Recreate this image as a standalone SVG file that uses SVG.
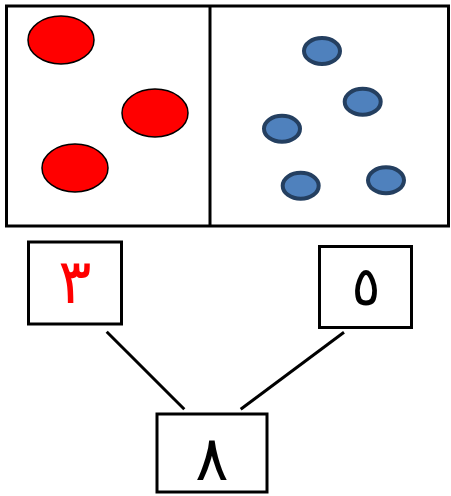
<svg xmlns="http://www.w3.org/2000/svg" width="451" height="496" viewBox="0 0 451 496">
<style>
.frame{fill:none;stroke:#000;stroke-width:3}
.red{fill:#ff0000;stroke:#000;stroke-width:1.5}
.blue{fill:#4f81bd;stroke:#243f60;stroke-width:4}
.box{fill:#fff;stroke:#000;stroke-width:3}
.num{font-family:"DejaVu Sans",sans-serif;font-size:54px;text-anchor:middle}
.big{font-size:62px}
.conn line{stroke:#000;stroke-width:3}
</style>
<g id="panel">
<rect class="frame" x="6.5" y="6" width="442" height="220"/>
<line x1="210" y1="6" x2="210" y2="226" stroke="#000" stroke-width="3"/>
</g>
<g id="red-dots">
<ellipse class="red" cx="61" cy="40" rx="33" ry="24"/>
<ellipse class="red" cx="155" cy="113" rx="33" ry="24"/>
<ellipse class="red" cx="75" cy="168" rx="33" ry="24"/>
</g>
<g id="blue-dots">
<ellipse class="blue" cx="322" cy="51" rx="18" ry="13"/>
<ellipse class="blue" cx="362.7" cy="101.7" rx="18" ry="13"/>
<ellipse class="blue" cx="282" cy="128.7" rx="18" ry="13"/>
<ellipse class="blue" cx="300.7" cy="185.7" rx="18" ry="13"/>
<ellipse class="blue" cx="386" cy="180.3" rx="18" ry="13"/>
</g>
<g id="connectors" class="conn">
<line x1="106.7" y1="331.7" x2="184.3" y2="409.3"/>
<line x1="344" y1="332.3" x2="240.7" y2="409.3"/>
</g>
<g id="node-3">
<rect class="box" x="28.5" y="242" width="93" height="82"/>
<text class="num big" x="75" y="303" fill="#ff0000">٣</text>
</g>
<g id="node-5">
<rect class="box" x="319.5" y="246.5" width="92" height="81"/>
<text class="num" x="366" y="305" fill="#000">٥</text>
</g>
<g id="node-8">
<rect class="box" x="157" y="414" width="110" height="78"/>
<text class="num big" x="212" y="480" fill="#000">٨</text>
</g>
</svg>
